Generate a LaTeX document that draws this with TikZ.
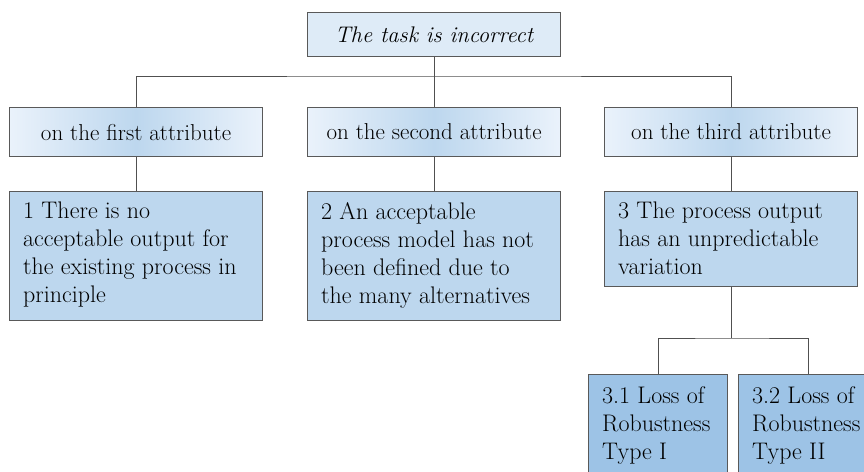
\documentclass[tikz,border=0pt]{standalone}
\definecolor{topfill}{HTML}{DEEBF7}
\definecolor{attredge}{HTML}{EAF2FB}
\definecolor{attrmid}{HTML}{BDD7EE}
\definecolor{probfill}{HTML}{BDD7EE}
\definecolor{subfill}{HTML}{9DC3E6}
\definecolor{boxline}{HTML}{595959}
\definecolor{linkcol}{HTML}{505050}
\begin{document}
\begin{tikzpicture}[x=1pt,y=-1pt,
  every node/.style={font=\rmfamily\fontsize{24}{28}\selectfont},
  frame/.style={draw=boxline, line width=1.1pt, rectangle, inner sep=0pt, anchor=north west},
  wide/.style={minimum width=253pt},
  attrbox/.style={frame, wide, minimum height=49pt,
    font=\rmfamily\fontsize{23}{27}\selectfont,
    left color=attredge, right color=attredge, middle color=attrmid},
  probbox/.style={frame, wide, fill=probfill},
  subbox/.style={frame, fill=subfill, minimum width=139pt, minimum height=130pt},
  txt/.style={anchor=north west, align=left, inner sep=0pt},
  link/.style={draw=linkcol, line width=1pt}
]
\clip (0,0) rectangle (864,471);

% root
\node[frame, wide, minimum height=44pt, fill=topfill,
      font=\rmfamily\fontsize{22.6}{27}\selectfont\itshape] (top) at (307,12) {The task is incorrect};

% attribute level
\node[attrbox] (a1) at (9,107)   {on the first attribute};
\node[attrbox] (a2) at (307,107) {on the second attribute};
\node[attrbox] (a3) at (604,107) {on the third attribute};

% problem boxes
\node[probbox, minimum height=129pt] (b1) at (9,191) {};
\node[txt] (t1) at ([shift={(14,11)}]b1.north west)
  {1 There is no\\acceptable output for\\the existing process in\\principle};
\node[probbox, minimum height=129pt] (b2) at (307,191) {};
\node[txt] (t2) at ([shift={(14,11)}]b2.north west)
  {2 An acceptable\\process model has not\\been defined due to\\the many alternatives};
\node[probbox, minimum height=95pt] (b3) at (604,191) {};
\node[txt] (t3) at ([shift={(14,11)}]b3.north west)
  {3 The process output\\has an unpredictable\\variation};

% sub-cases of the third attribute
\node[subbox] (b31) at (588,374) {};
\node[txt] (t31) at ([shift={(14,12)}]b31.north west)
  {3.1 Loss of\\Robustness\\Type I};
\node[subbox] (b32) at (738,374) {};
\node[txt] (t32) at ([shift={(14,12)}]b32.north west)
  {3.2 Loss of\\Robustness\\Type II};

% connectors
\coordinate (bus) at (top.south |- 0,76);
\draw[link] (top.south) -- (bus);
\draw[link] (a1.north) |- (bus) -| (a3.north);
\draw[link] (bus) -- (a2.north);
\draw[link] (a1.south) -- (b1.north);
\draw[link] (a2.south) -- (b2.north);
\draw[link] (a3.south) -- (b3.north);
\coordinate (bus2) at (b3.south |- 0,338);
\draw[link] (b3.south) -- (bus2);
\draw[link] (b31.north) |- (bus2) -| (b32.north);
\end{tikzpicture}
\end{document}
